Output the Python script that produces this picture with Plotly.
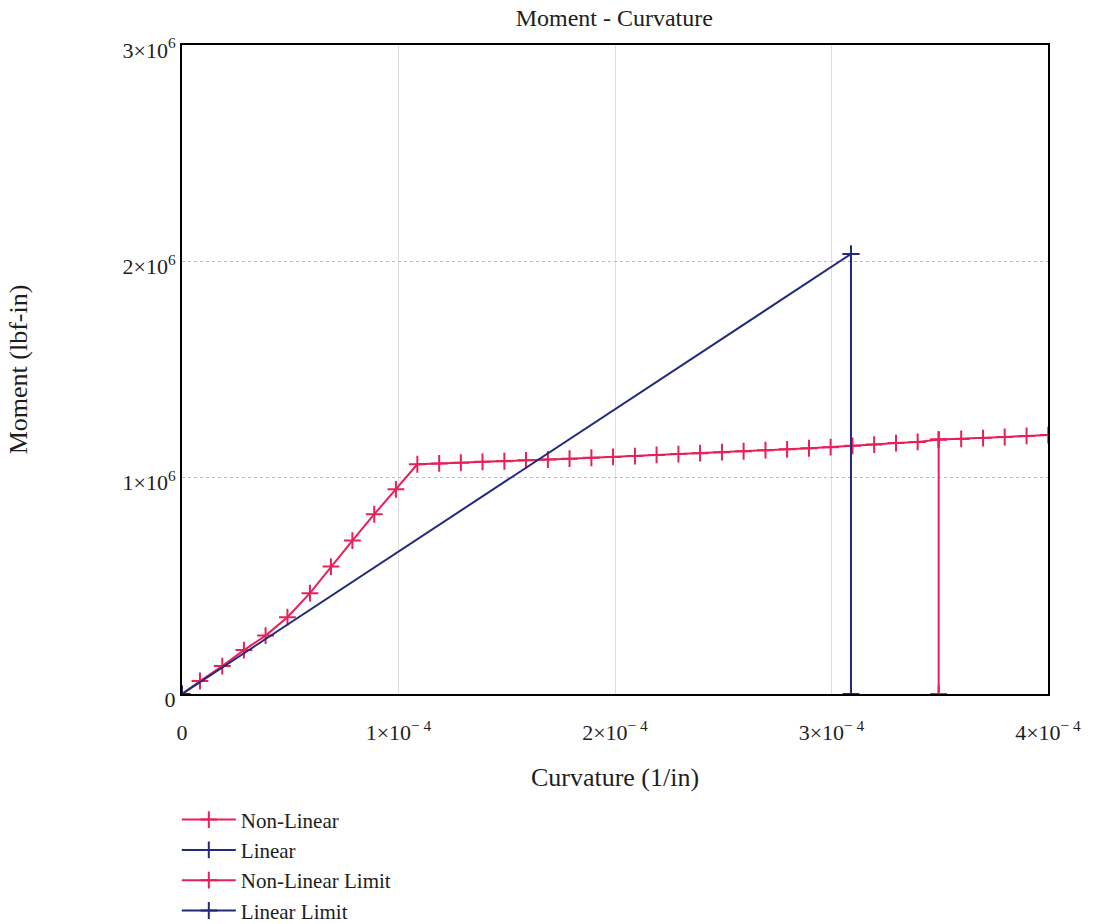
import plotly.graph_objects as go

# Moment-curvature response of the section
nonlinear_curvature = [
    0.0, 0.083e-4, 0.186e-4, 0.286e-4, 0.386e-4, 0.487e-4, 0.591e-4, 0.688e-4,
    0.787e-4, 0.888e-4, 0.988e-4,
    1.087e-4, 1.188e-4, 1.288e-4, 1.388e-4, 1.489e-4, 1.589e-4, 1.690e-4, 1.790e-4,
    1.891e-4, 1.991e-4, 2.092e-4, 2.192e-4, 2.293e-4, 2.393e-4, 2.494e-4, 2.594e-4,
    2.695e-4, 2.795e-4, 2.896e-4, 2.996e-4, 3.097e-4, 3.197e-4, 3.298e-4, 3.398e-4,
    3.495e-4, 3.599e-4, 3.700e-4, 3.800e-4, 3.901e-4, 4.001e-4,
]
nonlinear_moment = [
    0.0, 0.060e6, 0.129e6, 0.203e6, 0.270e6, 0.355e6, 0.466e6, 0.589e6,
    0.709e6, 0.831e6, 0.946e6,
    1.062e6, 1.066e6, 1.069e6, 1.073e6, 1.076e6, 1.080e6, 1.084e6, 1.088e6,
    1.092e6, 1.096e6, 1.100e6, 1.105e6, 1.109e6, 1.113e6, 1.118e6, 1.122e6,
    1.127e6, 1.131e6, 1.136e6, 1.141e6, 1.147e6, 1.153e6, 1.160e6, 1.165e6,
    1.176e6, 1.179e6, 1.183e6, 1.188e6, 1.193e6, 1.197e6,
]

linear_curvature = [0.0, 3.09e-4]
linear_moment = [0.0, 2.034e6]

nonlinear_limit_curvature = [3.495e-4, 3.495e-4]
nonlinear_limit_moment = [0.0, 1.176e6]

linear_limit_curvature = [3.09e-4, 3.09e-4]
linear_limit_moment = [0.0, 2.034e6]

x_tick_vals = [0, 1e-4, 2e-4, 3e-4, 4e-4]
x_tick_text = ["0", "1×10<sup>− 4</sup>", "2×10<sup>− 4</sup>",
               "3×10<sup>− 4</sup>", "4×10<sup>− 4</sup>"]
y_tick_vals = [0, 1e6, 2e6, 3e6]
y_tick_text = ["0", "1×10<sup>6</sup>", "2×10<sup>6</sup>", "3×10<sup>6</sup>"]

PINK = "#E8205A"
NAVY = "#222A7C"
FONT = "Liberation Serif, Times New Roman, serif"


def series(x, y, name, color):
    return go.Scatter(
        x=x, y=y, name=name, mode="lines+markers",
        line=dict(color=color, width=2),
        marker=dict(symbol="cross-thin", size=12, color=color,
                    line=dict(color=color, width=2)),
    )


fig = go.Figure()
fig.add_trace(series(nonlinear_curvature, nonlinear_moment, "Non-Linear", PINK))
fig.add_trace(series(linear_curvature, linear_moment, "Linear", NAVY))
fig.add_trace(series(nonlinear_limit_curvature, nonlinear_limit_moment,
                     "Non-Linear Limit", PINK))
fig.add_trace(series(linear_limit_curvature, linear_limit_moment,
                     "Linear Limit", NAVY))

fig.update_layout(
    width=1094, height=924,
    margin=dict(l=182, r=46, t=45, b=230, autoexpand=False),
    paper_bgcolor="white", plot_bgcolor="white",
    font=dict(family=FONT, size=22, color="#1e1e1e"),
    title=dict(text="Moment - Curvature", x=0.5615, xanchor="center",
               y=0.981, yanchor="middle", font=dict(size=24)),
    showlegend=True,
    legend=dict(x=-0.006, y=-0.1625, xanchor="left", yanchor="top",
                bgcolor="rgba(0,0,0,0)", font=dict(size=21),
                itemwidth=54, tracegroupgap=0),
)
fig.update_xaxes(
    range=[0, 4e-4], tickvals=x_tick_vals, ticktext=x_tick_text,
    showline=True, mirror=True, linecolor="black", linewidth=2,
    showgrid=True, gridcolor="#dedede", gridwidth=1,
    zeroline=False, ticks="", ticklabelstandoff=18,
    title=dict(text="Curvature (1/in)", standoff=23),
)
fig.update_yaxes(
    range=[0, 3e6], tickvals=y_tick_vals, ticktext=y_tick_text,
    showline=True, mirror=True, linecolor="black", linewidth=2,
    showgrid=True, gridcolor="#bbbbbb", gridwidth=1, griddash="dot",
    zeroline=False, ticks="", ticklabelstandoff=0, ticklabelshift=5,
    title=dict(text="Moment (lbf-in)", standoff=87),
)

fig.write_html("out.html")
